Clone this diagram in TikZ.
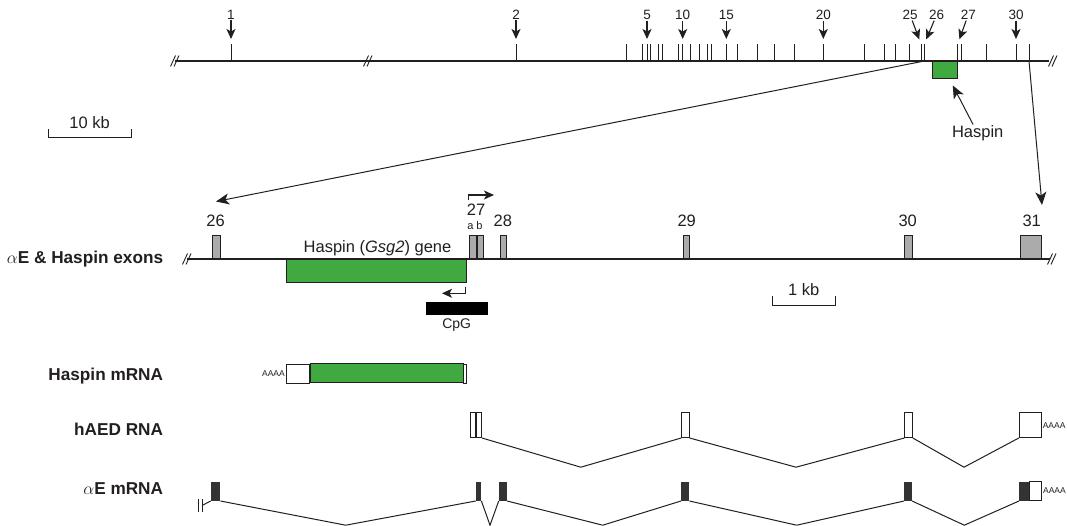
\documentclass[tikz,border=0pt]{standalone}
\usepackage{fontspec}
\setmainfont{Liberation Sans}
\usetikzlibrary{arrows.meta}

\definecolor{ink}{HTML}{231F20}
\definecolor{hgreen}{HTML}{40A940}
\definecolor{exgray}{HTML}{ABABAB}
\definecolor{exdark}{HTML}{333333}

\tikzset{
  gline/.style={line width=1.3pt},
  exbox/.style={draw, fill=exgray, line width=0.8pt, inner sep=0pt, anchor=south west, minimum height=23pt},
  grbox/.style={draw, fill=hgreen, line width=0.9pt, inner sep=0pt},
  rnabox/.style={draw, fill=white, line width=0.8pt, inner sep=0pt, anchor=south west, minimum height=24.8pt},
  aebox/.style={fill=exdark, inner sep=0pt, anchor=south west, minimum height=19.3pt},
  splice/.style={line width=1pt},
  arr/.style={-{Stealth[length=10pt,width=9pt,inset=2.5pt]}, line width=1.1pt},
  bigarr/.style={-{Stealth[length=13pt,width=11pt,inset=3.5pt]}, line width=1pt},
  toplbl/.style={font=\fontsize{13.5}{15}\selectfont, anchor=base, inner sep=1pt},
  exlbl/.style={font=\fontsize{16.5}{19}\selectfont, anchor=base, inner sep=1pt},
  txtlbl/.style={font=\fontsize{16.5}{19}\selectfont, anchor=base, inner sep=1pt},
  rowlbl/.style={font=\fontsize{17.2}{20}\selectfont\bfseries, anchor=base east, inner sep=0pt},
  polya/.style={font=\fontsize{8.5}{9}\selectfont, inner sep=1pt},
}
\newcommand{\brkmark}[1]{%
  \draw[line width=0.9pt] (#1) ++(-4.5,5.5) -- ++(5,-11) ++(-1.5,11) -- ++(5,-11);}

\begin{document}
\begin{tikzpicture}[x=1pt,y=1pt,yscale=-1,color=ink]
\useasboundingbox (0,0) rectangle (1067,526);
\fill[white] (0,0) rectangle (1067,526);

% genomic locus
\draw[gline] (175,61) -- (1049,61);
\brkmark{175,61}
\brkmark{368,61}
\brkmark{1053,61}
\foreach \x [count=\i] in {231,516,626.7,642.3,647,650.7,658.3,662.7,678.3,682.7,690.7,699.3,707.7,711.7,726.3,737.7,757.3,774,794.7,823.3,864.3,884.3,895.7,909,921,924.3,957.7,961,986.7,1016,1029}
  \draw[line width=1pt] (\x,44) coordinate (tk\i) -- (\x,61) coordinate (tb\i);

\foreach \n/\x in {1/231,2/516,5/647,10/682.7,15/726.3,20/823.3,30/1016} {
  \node[toplbl] (n\n) at (\x,19.3) {\n};
  \draw[arr, shorten >=5pt] (n\n) -- (tk\n);
}
\node[toplbl] (n25) at (910,19.3) {25};
\node[toplbl] (n26) at (936.7,19.3) {26};
\node[toplbl] (n27) at (968.3,19.3) {27};
\draw[arr, shorten >=5pt] (n25) -- (tk25);
\draw[arr, shorten >=5pt] (n26) -- (tk26);
\draw[arr, shorten >=5pt] (n27) -- (tk27);

\node[grbox, minimum width=25.3pt, minimum height=17.3pt, anchor=north west] (hasbox) at (931.7,61) {};
\node[txtlbl] (haslbl) at (977.7,137.7) {Haspin};
\draw[bigarr, shorten >=7pt] (haslbl) -- (hasbox);

% scale 10 kb
\node[txtlbl] (kb10) at (89.6,128.3) {10 kb};
\draw[line width=1pt] (48.3,129) -- (48.3,137.3) -- (131,137.3) -- (131,129);

% zoom in
\coordinate (z26) at (216,201.5);
\coordinate (z31) at (1042,205);
\draw[bigarr] (tb26) -- (z26);
\draw[bigarr] (tb31) -- (z31);

% exons 26-31
\node[rowlbl] (rowex) at (163.3,264) {$\alpha$E \& Haspin exons};
\draw[gline] (187,259) -- (1050,259);
\brkmark{187,259}
\brkmark{1052,259}

\node[grbox, minimum width=179.7pt, minimum height=23.3pt, anchor=north west] (gene) at (286,259) {};
\node[txtlbl] (genelbl) at (377.5,252.7) {Haspin (\textit{Gsg2}) gene};

\node[exbox, minimum width=7.4pt] (m26) at (212.3,259) {};
\node[exbox, minimum width=6.4pt] (m27a) at (469.3,259) {};
\node[exbox, minimum width=6pt] (m27b) at (m27a.south east) {};
\node[exbox, minimum width=5.7pt] (m28) at (500.3,259) {};
\node[exbox, minimum width=6.3pt] (m29) at (682.7,259) {};
\node[exbox, minimum width=7.4pt] (m30) at (904.3,259) {};
\node[exbox, minimum width=20.7pt] (m31) at (1020.3,259) {};

\node[exlbl] (l26) at (215.6,226.7) {26};
\node[exlbl] (l27) at (476,216) {27};
\node[toplbl, font=\fontsize{11}{12}\selectfont] (l27a) at (470.5,230) {a};
\node[toplbl, font=\fontsize{11}{12}\selectfont] (l27b) at (479.5,230) {b};
\node[exlbl] (l28) at (502.8,226.7) {28};
\node[exlbl] (l29) at (686.7,226.7) {29};
\node[exlbl] (l30) at (907.7,226.7) {30};
\node[exlbl] (l31) at (1031.7,226.7) {31};

\coordinate (p27) at (468.3,200.5);
\draw[arr] (p27) |- (494,195);
\coordinate (pgene) at (465.7,286.7);
\draw[arr] (pgene) |- (442,293.3);

\node[fill=black, minimum width=61.7pt, minimum height=12.7pt, inner sep=0pt, anchor=north west] (cpg) at (426,302.3) {};
\node[txtlbl, font=\fontsize{14}{16}\selectfont] (cpglbl) at (456.7,328.3) {CpG};

% scale 1 kb
\node[txtlbl] (kb1) at (803.8,295) {1 kb};
\draw[line width=1pt] (772.7,296) -- (772.7,305.7) -- (835,305.7) -- (835,296);

% Haspin mRNA
\node[rowlbl] (rowhs) at (163.3,380) {Haspin mRNA};
\node[rnabox, minimum width=23.3pt, minimum height=19pt] (hs3) at (286,383.3) {};
\node[grbox, minimum width=152.4pt, minimum height=19pt, anchor=south west] (hscds) at (hs3.south east) {};
\node[rnabox, minimum width=2.6pt, minimum height=19pt] (hs5) at (hscds.south east) {};
\node[polya, anchor=east] (hspa) at (hs3.west) {AAAA};

% hAED RNA
\node[rowlbl] (rowhd) at (163.3,435) {hAED RNA};
\node[rnabox, minimum width=5.2pt] (h27a) at (470,438) {};
\node[rnabox, minimum width=5.2pt] (h27b) at (h27a.south east) {};
\node[rnabox, minimum width=7.6pt] (h29) at (681.2,438) {};
\node[rnabox, minimum width=7.6pt] (h30) at (904.4,438) {};
\node[rnabox, minimum width=22pt] (h31) at (1018.8,438) {};
\node[polya, anchor=west] (hdpa) at (h31.east) {AAAA};
\coordinate (hv1) at (580.8,467.2);
\coordinate (hv2) at (796,467.2);
\coordinate (hv3) at (964,467.2);
\draw[splice] (h27b.south east) -- (hv1) -- (h29.south west);
\draw[splice] (h29.south east) -- (hv2) -- (h30.south west);
\draw[splice] (h30.south east) -- (hv3) -- (h31.south west);

% alphaE mRNA
\node[rowlbl] (rowae) at (163.3,494) {$\alpha$E mRNA};
\node[aebox, minimum width=9.3pt] (a26) at (210.7,501) {};
\node[aebox, minimum width=5.3pt] (a27) at (475.7,501) {};
\node[aebox, minimum width=8pt] (a28) at (498.7,501) {};
\node[aebox, minimum width=8pt] (a29) at (681,501) {};
\node[aebox, minimum width=7.7pt] (a30) at (904,501) {};
\node[aebox, minimum width=9.3pt] (a31) at (1019,501) {};
\node[rnabox, minimum width=12.4pt, minimum height=19.3pt] (a31u) at (a31.south east) {};
\node[polya, anchor=west] (aepa) at (a31u.east) {AAAA};
\coordinate (av1) at (345.7,525.2);
\coordinate (av2) at (490,525.2);
\coordinate (av3) at (602.7,525.2);
\coordinate (av4) at (796.7,525.2);
\coordinate (av5) at (964.3,525.2);
\draw[splice] (a26.south east) -- (av1) -- (a27.south west);
\draw[splice] (a27.south east) -- (av2) -- (a28.south west);
\draw[splice] (a28.south east) -- (av3) -- (a29.south west);
\draw[splice] (a29.south east) -- (av4) -- (a30.south west);
\draw[splice] (a30.south east) -- (av5) -- (a31.south west);
\draw[line width=0.8pt] (198.5,499) -- (198.5,512) (202,499) -- (202,512);
\coordinate (a5p) at (202,505.5);
\draw[splice] (a5p) -- (a26.south west);
\end{tikzpicture}
\end{document}
